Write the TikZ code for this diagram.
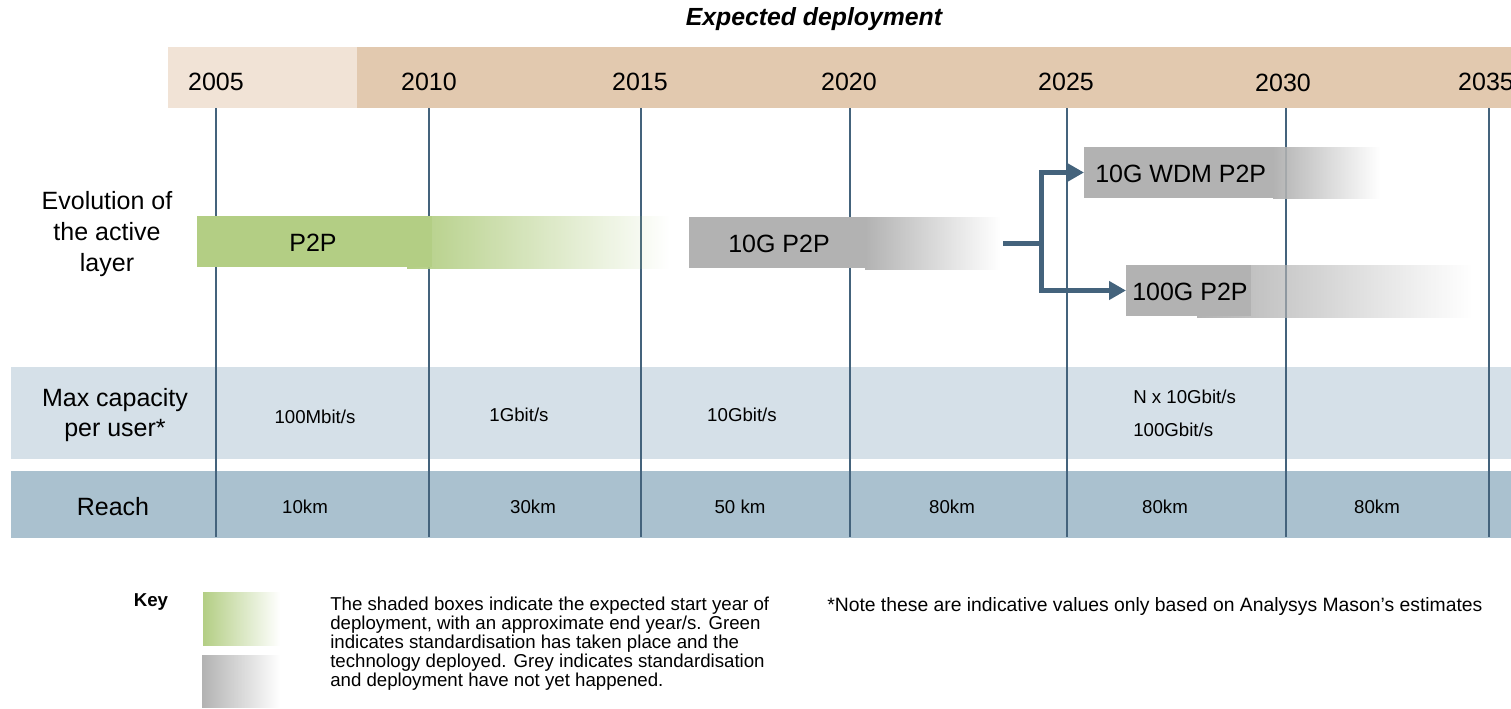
\documentclass[tikz,border=0pt]{standalone}
\usepackage{fontspec}
\setmainfont{Liberation Sans}
\usetikzlibrary{arrows.meta,fadings,fit}
\definecolor{hdr}{HTML}{E2C9AF}
\definecolor{hdrlt}{HTML}{F1E3D6}
\definecolor{grn}{HTML}{B3CE84}
\definecolor{gry}{HTML}{B2B2B2}
\definecolor{slate}{HTML}{44637C}
\definecolor{capband}{HTML}{D5E0E8}
\definecolor{reachband}{HTML}{AAC1CF}
\begin{document}
\begin{tikzpicture}[x=0.75pt,y=-0.75pt,
  big/.style={font=\fontsize{18.75}{23.25}\selectfont, inner sep=0},
  small/.style={font=\fontsize{14}{14.25}\selectfont, inner sep=0},
  gridline/.style={draw=slate, line width=1.6pt},
  conn/.style={draw=slate, line width=3.75pt},
  tipd/.style={-{Triangle[length=12.75pt,width=13.5pt]}},
  box/.style={inner sep=0, outer sep=0},
]
\useasboundingbox (0,0) rectangle (1511,708);

% title
\node[font=\fontsize{18.6}{22}\selectfont\bfseries\itshape, inner sep=0] (title) at (814,19) {Expected deployment};

% header band
\fill[hdrlt] (168,47) rectangle (357,108);
\fill[hdr] (357,47) rectangle (1511,108);
\node[big] (y2005) at (216,82) {2005};
\node[big] (y2010) at (429,82) {2010};
\node[big] (y2015) at (640,82) {2015};
\node[big] (y2020) at (849,82) {2020};
\node[big] (y2025) at (1066,82) {2025};
\node[big] (y2030) at (1283,83) {2030};
\node[big] (y2035) at (1486,82) {2035};

% row bands
\fill[capband] (11,367) rectangle (1511,459);
\fill[reachband] (11,471) rectangle (1511,538);

% grid lines
\foreach \x in {216,429,641,850,1067,1286,1489}
  \draw[gridline] (\x,108) -- (\x,537);

% row labels
\node[big, align=center] (lblevo) at (107,234) {Evolution of\\the active\\layer};
\node[big, align=center, font=\fontsize{18.75}{22.5}\selectfont] (lblcap) at (115,415) {Max capacity\\per user*};
\node[big] (lblreach) at (113,507) {Reach};

% P2P bar
\fill[grn, path fading=east] (407,216) rectangle (670,269);
\node[box, fill=grn, fit={(197,216) (432,267)}] (p2p) {};
\node[big] (p2ptxt) at (313,243) {P2P};

% 10G P2P bar
\fill[gry, path fading=east] (865,217) rectangle (1000,270);
\node[box, fit={(865,217) (1000,270)}] (g10fade) {};
\node[box, fill=gry, fit={(689,217) (867,268)}] (g10) {};
\node[big, anchor=west] (g10txt) at (728,244) {10G P2P};

% 10G WDM P2P bar
\fill[gry, path fading=east] (1273,147) rectangle (1380,199);
\node[box, fill=gry, fit={(1084,147) (1274,198)}] (wdm) {};
\node[big, anchor=west] (wdmtxt) at (1095,174) {10G WDM P2P};

% 100G P2P bar
\fill[gry, path fading=east] (1197,265) rectangle (1472,318);
\node[box, fill=gry, fit={(1126,265) (1251,316)}] (g100) {};
\node[big, anchor=west] (g100txt) at (1132,292) {100G P2P};

% connectors
\coordinate (br) at (1041,243.5);
\draw[conn] ([xshift=2.25pt]g10fade.east) -- (br);
\draw[conn, tipd] (br) |- (wdm.west);
\draw[conn, tipd] (br) |- (g100.west);

% capacity values
\node[small] (c1) at (315,417) {100Mbit/s};
\node[small] (c2) at (519,415) {1Gbit/s};
\node[small] (c3) at (742,415) {10Gbit/s};
\node[small, anchor=west] (c4) at (1133,397) {N x 10Gbit/s};
\node[small, anchor=west] (c5) at (1133,430) {100Gbit/s};

% reach values
\node[small] (r1) at (305,507) {10km};
\node[small] (r2) at (533,507) {30km};
\node[small] (r3) at (740,507) {50 km};
\node[small] (r4) at (952,507) {80km};
\node[small] (r5) at (1165,507) {80km};
\node[small] (r6) at (1377,507) {80km};

% key
\node[font=\fontsize{14}{16}\selectfont\bfseries, inner sep=0] (key) at (151,602) {Key};
\fill[grn, path fading=east] (203,592) rectangle (280,646);
\fill[gry, path fading=east] (202,655) rectangle (280,708);
\node[small, anchor=north west, align=left] (keytxt) at (330,597) {The shaded boxes indicate the expected start year of\\deployment, with an approximate end year/s. Green\\indicates standardisation has taken place and the\\technology deployed. Grey indicates standardisation\\and deployment have not yet happened.};

% footnote
\node[small, anchor=west, font=\fontsize{14.5}{15}\selectfont] (note) at (827,606) {*Note these are indicative values only based on Analysys Mason’s estimates};
\end{tikzpicture}
\end{document}
